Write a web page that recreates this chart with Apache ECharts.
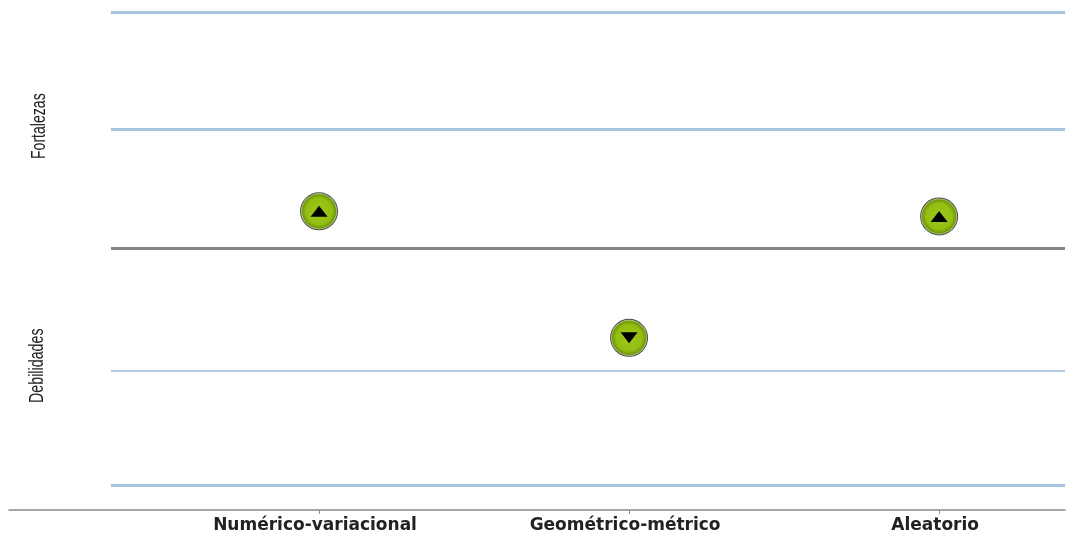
<!DOCTYPE html>
<html><head><meta charset="utf-8">
<style>html,body{margin:0;padding:0;background:#fff}#c{width:1081px;height:538px}</style>
<script src="https://cdn.jsdelivr.net/npm/echarts@6/dist/echarts.min.js"></script>
</head><body><div id="c"></div>
<script>
const categories = ['Numérico-variacional', 'Geométrico-métrico', 'Aleatorio'];
const values = [0.31, -0.76, 0.267];
const directions = ['up', 'down', 'up'];
const gridLevels = [1.996, 1.004, -1.04, -2.01];
const zeroLevel = 0;
const sideLabels = ['Fortalezas', 'Debilidades'];

const xMin = 0, xMax = 3.406, lineStart = 0.329;
const lvlLine = (v, color, width) => [
  { coord: [lineStart, v], lineStyle: { color, width, type: 'solid', opacity: 1 } },
  { coord: [xMax, v] }
];
const pts = categories.map((c, i) => [i + 1, values[i]]);
const sideText = (text, x, y, sx) => ({
  type: 'text', x, y, rotation: Math.PI / 2, scaleX: sx, scaleY: 1,
  style: { text, fontFamily: 'Liberation Sans', fontSize: 21, fill: '#222', textVerticalAlign: 'middle', textAlign: 'left' }
});

const chart = echarts.init(document.getElementById('c'), null, { renderer: 'canvas' });
chart.setOption({
  animation: false,
  backgroundColor: '#fff',
  grid: { left: 9, right: 16, top: 12, bottom: 28, containLabel: false },
  xAxis: {
    type: 'value', min: xMin, max: xMax, interval: 1, splitLine: { show: false },
    axisLine: { show: true, onZero: false, lineStyle: { color: '#8a8a8a', width: 1.5 } },
    axisTick: { show: true, length: 4, lineStyle: { color: '#8a8a8a' } },
    axisLabel: {
      show: true, margin: 7, color: '#222', fontFamily: 'DejaVu Sans', fontWeight: 'bold', fontSize: 17,
      padding: [0, 8, 0, 0], hideOverlap: false, showMinLabel: false, showMaxLabel: false,
      formatter: v => categories[v - 1] || ''
    }
  },
  yAxis: {
    type: 'value', min: -2.216, max: 1.996, show: false, splitLine: { show: false }
  },
  series: [
    {
      type: 'scatter', silent: true, data: [], z: 1,
      markLine: {
        silent: true, symbol: 'none', label: { show: false }, animation: false,
        data: gridLevels.map((v, i) => lvlLine(v, i === 2 ? '#9db8dc' : '#a9c4e0', i === 2 ? 1.5 : 3))
          .concat([lvlLine(zeroLevel, '#858585', 3)])
      }
    },
    {
      type: 'scatter', data: pts, symbol: 'circle', symbolSize: 38, z: 3, silent: true,
      itemStyle: { opacity: 1, color: '#4a4a4a' }
    },
    {
      type: 'scatter', data: pts, symbol: 'circle', symbolSize: 36, z: 4, silent: true,
      itemStyle: {
        opacity: 1,
        color: { type: 'radial', x: 0.5, y: 0.5, r: 0.5, colorStops: [
          { offset: 0, color: '#9fc81a' }, { offset: 0.72, color: '#93be12' }, { offset: 0.92, color: '#6f9a0a' }, { offset: 1, color: '#c9d8a0' }
        ] }
      }
    },
    {
      type: 'scatter', data: pts, symbol: 'triangle', symbolSize: [17, 11], z: 5, silent: true,
      symbolRotate: (v, p) => directions[p.dataIndex] === 'down' ? 180 : 0,
      itemStyle: { opacity: 1, color: '#000' }
    }
  ],
  graphic: [
    sideText(sideLabels[0], 39, 159, 0.67),
    sideText(sideLabels[1], 37, 403, 0.68)
  ]
});
</script></body></html>
